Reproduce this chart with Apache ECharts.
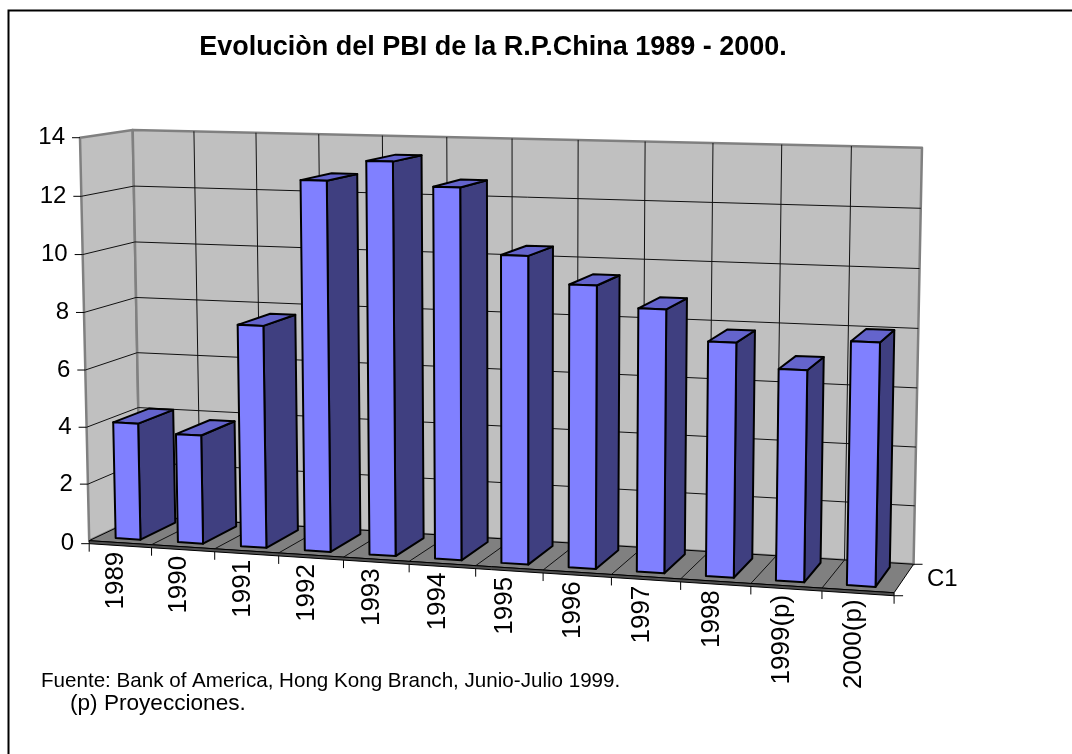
<!DOCTYPE html>
<html>
<head>
<meta charset="utf-8">
<script src="https://cdn.jsdelivr.net/npm/echarts@6/dist/echarts.min.js"></script>
<style>
  html, body { margin: 0; padding: 0; background: #fff; }
  #chart { width: 1072px; height: 754px; }
</style>
</head>
<body>
<div id="chart"></div>
<script>
// ---- data ----
const categories = ['1989', '1990', '1991', '1992', '1993', '1994', '1995', '1996', '1997', '1998', '1999(p)', '2000(p)'];
const growth = [4.1, 3.8, 7.7, 12.7, 13.4, 12.6, 10.4, 9.5, 8.8, 7.8, 7.0, 8.0];
const yTicks = [0, 2, 4, 6, 8, 10, 12, 14];
const seriesLabel = 'C1';
const titleText = 'Evoluciòn del PBI de la R.P.China 1989 - 2000.';
const sourceText = 'Fuente: Bank of America, Hong Kong Branch, Junio-Julio 1999.';
const noteText = '(p) Proyecciones.';

// ---- perspective camera ----
// Reference points of the unit plot box (x across the categories, y up the
// value axis, z from the front edge to the back wall) and their screen spots.
const viewPoints = [
  [[0, 0, 0], [90, 537.5]],
  [[0, 6 / 14, 0], [85.3, 370]],
  [[0, 1, 0], [79, 139]],
  [[0.5, 0, 0], [475, 566]],
  [[1, 0, 0], [895, 594.5]],
  [[0, 0, 1], [140, 520]],
  [[0, 6 / 14, 1], [137.5, 351.7]],
  [[0, 1, 1], [133, 128.3]],
  [[0.5, 1, 1], [512.7, 140]],
  [[1, 1, 1], [922, 147.5]],
  [[1, 6 / 14, 1], [916.8, 386.7]],
  [[1, 0, 1], [913, 563]]
];

function fitCamera(pairs) {
  const n = 11, S = 500, OX = 500, OY = 400;
  const M = Array.from({ length: n }, () => new Array(n).fill(0));
  const r = new Array(n).fill(0);
  const add = (row, rhs) => {
    for (let i = 0; i < n; i++) {
      r[i] += row[i] * rhs;
      for (let j = 0; j < n; j++) M[i][j] += row[i] * row[j];
    }
  };
  pairs.forEach(([[X, Y, Z], [su, sv]]) => {
    const u = (su - OX) / S, v = (sv - OY) / S;
    add([X, Y, Z, 1, 0, 0, 0, 0, -u * X, -u * Y, -u * Z], u);
    add([0, 0, 0, 0, X, Y, Z, 1, -v * X, -v * Y, -v * Z], v);
  });
  for (let c = 0; c < n; c++) {
    let p = c;
    for (let k = c + 1; k < n; k++) if (Math.abs(M[k][c]) > Math.abs(M[p][c])) p = k;
    [M[c], M[p]] = [M[p], M[c]];
    [r[c], r[p]] = [r[p], r[c]];
    for (let k = c + 1; k < n; k++) {
      const f = M[k][c] / M[c][c];
      for (let j = c; j < n; j++) M[k][j] -= f * M[c][j];
      r[k] -= f * r[c];
    }
  }
  const q = new Array(n);
  for (let i = n - 1; i >= 0; i--) {
    let s = r[i];
    for (let j = i + 1; j < n; j++) s -= M[i][j] * q[j];
    q[i] = s / M[i][i];
  }
  return (X, Y, Z) => {
    const w = q[8] * X + q[9] * Y + q[10] * Z + 1;
    return [
      OX + S * (q[0] * X + q[1] * Y + q[2] * Z + q[3]) / w,
      OY + S * (q[4] * X + q[5] * Y + q[6] * Z + q[7]) / w
    ];
  };
}
const project = fitCamera(viewPoints);

// ---- styling ----
const FONT = '"Liberation Sans", Arial, Helvetica, sans-serif';
const BAR_WIDTH = 0.4;       // share of a category band
const BAR_Z = [0.15, 0.85];  // depth span of each column
const SLAB = 3;              // thickness of the floor's front face, px
const faceFront = '#8080FF', faceSide = '#3F3F80', faceTop = '#6464CC';

// convert a (category, value) pair into unit-box coordinates through the axes
function boxX(api, cs, idx, offset) {
  const band = api.size([1, 0])[0];
  return (api.coord([idx, 0])[0] + offset * band - cs.x) / cs.width;
}
function boxY(api, cs, val) {
  return (cs.y + cs.height - api.coord([0, val])[1]) / cs.height;
}
const line = (a, b, style) => ({ type: 'line', shape: { x1: a[0], y1: a[1], x2: b[0], y2: b[1] }, style });
const poly = (pts, style) => ({ type: 'polygon', shape: { points: pts.map(p => project(p[0], p[1], p[2])) }, style });

// walls and floor
function renderFrame(params, api) {
  const cs = params.coordSys;
  const x0 = boxX(api, cs, 0, -0.5), x1 = boxX(api, cs, categories.length - 1, 0.5);
  const y0 = boxY(api, cs, yTicks[0]), y1 = boxY(api, cs, yTicks[yTicks.length - 1]);
  const children = [];
  children.push(poly([[x0, y0, 0], [x0, y0, 1], [x0, y1, 1], [x0, y1, 0]],
    { fill: '#C0C0C0', stroke: '#808080', lineWidth: 2.5, lineJoin: 'round' }));
  children.push(poly([[x0, y0, 1], [x1, y0, 1], [x1, y1, 1], [x0, y1, 1]],
    { fill: '#C0C0C0', stroke: '#808080', lineWidth: 2.5, lineJoin: 'round' }));
  children.push(poly([[x0, y0, 0], [x1, y0, 0], [x1, y0, 1], [x0, y0, 1]],
    { fill: '#808080', stroke: '#000', lineWidth: 1 }));
  const fl = project(x0, y0, 0), fr = project(x1, y0, 0), br = project(x1, y0, 1);
  // front face of the floor slab
  children.push({
    type: 'polygon',
    shape: { points: [fl, fr, [fr[0], fr[1] + SLAB], [fl[0], fl[1] + SLAB]] },
    style: { fill: '#505050', stroke: '#000', lineWidth: 1 }
  });
  // series (depth) axis
  children.push(line([fr[0], fr[1] + SLAB], [fr[0] + 9, fr[1] + SLAB], { stroke: '#000', lineWidth: 1 }));
  children.push(line(br, [br[0] + 9, br[1]], { stroke: '#000', lineWidth: 1 }));
  const mid = project(x1, y0, 0.5);
  children.push({
    type: 'text', x: mid[0] + 23, y: mid[1] + 1,
    style: { text: seriesLabel, font: '24px ' + FONT, fill: '#000', align: 'left', verticalAlign: 'middle' }
  });
  return { type: 'group', children };
}

// value gridlines, ticks and labels
function renderValueTick(params, api) {
  const cs = params.coordSys;
  const v = api.value(1);
  const y = boxY(api, cs, v);
  const x0 = boxX(api, cs, 0, -0.5), x1 = boxX(api, cs, categories.length - 1, 0.5);
  const children = [];
  const inner = v !== yTicks[0] && v !== yTicks[yTicks.length - 1];
  const a = project(x0, y, 0), b = project(x0, y, 1), c = project(x1, y, 1);
  if (inner) {
    children.push(line(a, b, { stroke: '#111', lineWidth: 1 }));
    children.push(line(b, c, { stroke: '#111', lineWidth: 1 }));
  }
  const t = v === yTicks[0] ? [a[0], a[1] + SLAB] : a;
  children.push(line([t[0] - 8, t[1]], t, { stroke: '#000', lineWidth: 1 }));
  children.push({
    type: 'text', x: t[0] - 15, y: t[1],
    style: { text: String(v), font: '24px ' + FONT, fill: '#000', align: 'right', verticalAlign: 'middle' }
  });
  return { type: 'group', children };
}

// category boundaries, ticks and labels
function renderCategory(params, api) {
  const cs = params.coordSys;
  const i = api.value(0);
  const y0 = boxY(api, cs, yTicks[0]), y1 = boxY(api, cs, yTicks[yTicks.length - 1]);
  const children = [];
  const bounds = [boxX(api, cs, i, -0.5)];
  if (i === categories.length - 1) bounds.push(boxX(api, cs, i, 0.5));
  bounds.forEach((xb, k) => {
    const f = project(xb, y0, 0), bk = project(xb, y0, 1), tp = project(xb, y1, 1);
    const edge = (i === 0 && k === 0) || k === 1;
    if (!edge) {
      children.push(line(f, bk, { stroke: '#111', lineWidth: 1 }));
      children.push(line(bk, tp, { stroke: '#111', lineWidth: 1 }));
    }
    children.push(line([f[0], f[1] + SLAB], [f[0], f[1] + SLAB + 8], { stroke: '#000', lineWidth: 1 }));
  });
  const c = project(boxX(api, cs, i, 0), y0, 0);
  children.push({
    type: 'text', x: c[0] - 4, y: c[1] + SLAB + 6, rotation: Math.PI / 2,
    style: { text: categories[i], font: '26px ' + FONT, fill: '#000', align: 'right', verticalAlign: 'middle' }
  });
  return { type: 'group', children };
}

// 3-D columns
function renderColumn(params, api) {
  const cs = params.coordSys;
  const i = api.value(0);
  const xa = boxX(api, cs, i, -BAR_WIDTH / 2), xb = boxX(api, cs, i, BAR_WIDTH / 2);
  const y0 = boxY(api, cs, 0), y1 = boxY(api, cs, api.value(1));
  const [za, zb] = BAR_Z;
  const edge = { stroke: '#000', lineWidth: 2, lineJoin: 'round' };
  return {
    type: 'group',
    children: [
      poly([[xb, y0, za], [xb, y0, zb], [xb, y1, zb], [xb, y1, za]], Object.assign({ fill: faceSide }, edge)),
      poly([[xa, y1, za], [xb, y1, za], [xb, y1, zb], [xa, y1, zb]], Object.assign({ fill: faceTop }, edge)),
      poly([[xa, y0, za], [xb, y0, za], [xb, y1, za], [xa, y1, za]], Object.assign({ fill: faceFront }, edge))
    ]
  };
}

const chart = echarts.init(document.getElementById('chart'), null, { renderer: 'canvas' });
chart.setOption({
  animation: false,
  backgroundColor: '#fff',
  grid: { left: 100, right: 100, top: 100, bottom: 100 },
  xAxis: { type: 'category', data: categories, show: false },
  yAxis: { type: 'value', min: 0, max: 14, interval: 2, show: false },
  graphic: [
    { type: 'rect', shape: { x: 8.5, y: 10.5, width: 1100, height: 800 }, style: { fill: 'none', stroke: '#000', lineWidth: 2 }, silent: true },
    { type: 'text', x: 493, y: 48, style: { text: titleText, font: 'bold 27px ' + FONT, fill: '#000', align: 'center', verticalAlign: 'middle' } },
    { type: 'text', x: 41, y: 681, style: { text: sourceText, font: '20.6px ' + FONT, fill: '#000', align: 'left', verticalAlign: 'middle' } },
    { type: 'text', x: 70, y: 704, style: { text: noteText, font: '22.6px ' + FONT, fill: '#000', align: 'left', verticalAlign: 'middle' } }
  ],
  series: [
    { type: 'custom', name: 'frame', z: 1, data: [[0, 0]], renderItem: renderFrame, silent: true },
    { type: 'custom', name: 'values', z: 2, data: yTicks.map(t => [0, t]), renderItem: renderValueTick, silent: true },
    { type: 'custom', name: 'categories', z: 2, data: categories.map((c, i) => [i, 0]), renderItem: renderCategory, silent: true },
    { type: 'custom', name: seriesLabel, z: 3, data: growth.map((v, i) => [i, v]), renderItem: renderColumn }
  ]
});
</script>
</body>
</html>
